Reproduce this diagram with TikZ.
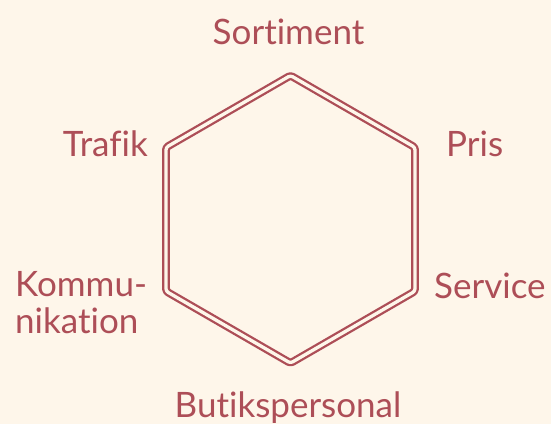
\documentclass[tikz,border=0pt]{standalone}
\usepackage{fontspec}
\setmainfont[Ligatures=NoCommon]{Lato}
\definecolor{bg}{HTML}{FEF6EA}
\definecolor{wine}{HTML}{AD4E57}
\begin{document}
\begin{tikzpicture}[x=1pt,y=-1pt,
  lbl/.style={inner sep=0pt,text=wine,font=\fontsize{35}{37}\selectfont},
  hexline/.style={draw=wine,line width=2.3pt,double=bg,double distance=3.3pt,rounded corners=2.5pt,line join=round}]
\fill[bg] (0,0) rectangle (551,424);
\useasboundingbox (0,0) rectangle (551,424);
\coordinate (v1) at (290.5,75.5);
\coordinate (v2) at (415,147.4);
\coordinate (v3) at (415,291.2);
\coordinate (v4) at (290.5,363.1);
\coordinate (v5) at (166,291.2);
\coordinate (v6) at (166,147.4);
\draw[hexline] (v1) -- (v2) -- (v3) -- (v4) -- (v5) -- (v6) -- cycle;
\node[lbl,anchor=base] (sortiment) at (288.5,44) {Sortiment};
\node[lbl,anchor=base west] (pris) at (446,156) {Pris};
\node[lbl,anchor=base east] (trafik) at (148,156) {Trafik};
\node[lbl,anchor=base west] (service) at (434,298) {Service};
\node[lbl,anchor=base] (butik) at (288,417) {Butikspersonal};
\node[lbl,anchor=north west,align=left] (komm) at (15,271) {Kommu-\\nikation};
\end{tikzpicture}
\end{document}
